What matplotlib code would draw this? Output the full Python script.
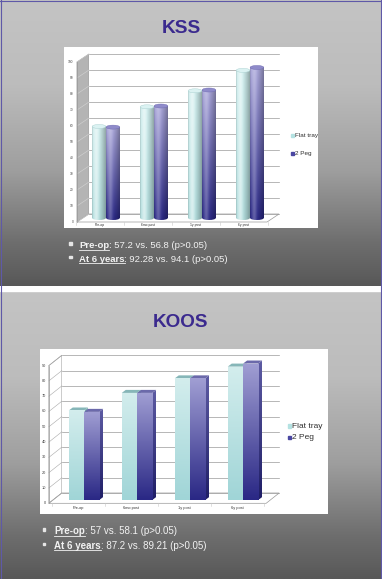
import numpy as np
import matplotlib.pyplot as plt
from matplotlib.patches import Rectangle, Polygon, Ellipse
from matplotlib.lines import Line2D
from matplotlib.colors import to_rgb

W, H = 382, 579

categories = ['Pre-op', '6mo post', '1y post', '6y post']
series_names = ['Flat tray', '2 Peg']

kss_flat = [57.2, 69.5, 79.5, 92.28]
kss_peg = [56.8, 70.0, 80.0, 94.1]
kss_ticks = list(range(0, 101, 10))

koos_flat = [58.5, 70.0, 79.5, 87.2]
koos_peg = [57.6, 70.0, 79.5, 89.2]
koos_ticks = list(range(0, 91, 10))

kss_notes = [('Pre-op', ': 57.2 vs. 56.8 (p>0.05)'),
             ('At 6 years', ': 92.28 vs. 94.1 (p>0.05)')]
koos_notes = [('Pre-op', ': 57 vs. 58.1 (p>0.05)'),
              ('At 6 years', ': 87.2 vs. 89.21 (p>0.05)')]

plt.rcParams['font.family'] = ['Liberation Sans', 'DejaVu Sans']

fig = plt.figure(figsize=(W / 100, H / 100), dpi=100)


def fx(x):
    return x / W


def fy(y):
    return 1 - y / H


def vgrad(stops, n=200, m=1):
    t = np.linspace(0, 1, n)
    pos = [s[0] for s in stops]
    cols = np.array([to_rgb(s[1]) for s in stops])
    img = np.stack([np.interp(t, pos, cols[:, k]) for k in range(3)], axis=1)
    return np.repeat(img[:, None, :], m, axis=1)


# slide backgrounds
bg = fig.add_axes([0, 0, 1, 1])
bg.axis('off')
slide_stops = [(0, '#c4c4c4'), (0.3, '#bcbcbc'), (0.6, '#9e9e9e'),
               (0.85, '#6e6e6e'), (1, '#585858')]
bg.imshow(vgrad(slide_stops), extent=(0, W, 286.5, 0), aspect='auto',
          interpolation='bilinear')
bg.imshow(vgrad(slide_stops), extent=(0, W, H, 290.5), aspect='auto',
          interpolation='bilinear')
bg.add_patch(Rectangle((0, 286.5), W, 4, color='white'))
border = '#5f59a8'
bg.plot([1, 1], [0, H], color=border, lw=0.8)
bg.plot([381, 381], [0, H], color=border, lw=0.8)
bg.plot([0, W], [1, 1], color=border, lw=0.8)
bg.set_xlim(0, W)
bg.set_ylim(H, 0)

# titles
title_col = '#3b2a8e'
fig.text(fx(181.5), fy(28.7), 'KSS', fontsize=13.8, fontweight='bold',
         color=title_col, ha='center', va='center')
fig.text(fx(181), fy(322), 'KOOS', fontsize=13.6, fontweight='bold',
         color=title_col, ha='center', va='center')


def cyl_img(top_c, bot_c, hl=0.45, n=64, m=40):
    base = vgrad([(0, top_c), (1, bot_c)], n=n, m=m)
    u = np.linspace(0, 1, m)
    w = hl * np.exp(-((u - 0.3) / 0.18) ** 2)
    dark = 1 - 0.3 * np.clip((u - 0.45) / 0.55, 0, 1) ** 1.3
    dark = dark * (1 - 0.15 * np.exp(-(u / 0.04) ** 2))
    img = base * (1 - w[None, :, None]) + w[None, :, None]
    return np.clip(img * dark[None, :, None], 0, 1)


def draw_chart(box, cx0, cpx, vy0, vpx, front, back, span, flat, peg, ticks,
               cyl, tick_fs, cat_fs, tick_dx, cat_dy, wall_col, grid_col):
    x0, x1, y0, y1 = box
    ax = fig.add_axes([fx(x0), fy(y1), (x1 - x0) / W, (y1 - y0) / H])
    ax.axis('off')
    ax.add_patch(Rectangle((0, 0), 1, 1, transform=ax.transAxes,
                           color='white', zorder=0))

    def P(c, v, off):
        return (c + off[0] / cpx, v - off[1] / vpx)

    a, b = span
    top = ticks[-1]
    line_col = '#9a9a9a'

    # left wall and back wall
    ax.add_patch(Polygon([P(a, 0, front), P(a, 0, back), P(a, top, back),
                          P(a, top, front)], closed=True, facecolor=wall_col,
                         edgecolor=line_col, lw=0.5, zorder=1))
    ax.add_patch(Polygon([P(a, 0, back), P(b, 0, back), P(b, top, back),
                          P(a, top, back)], closed=True, facecolor='white',
                         edgecolor='none', zorder=1))
    for t in ticks:
        p1, p2 = P(a, t, back), P(b, t, back)
        ax.plot([p1[0], p2[0]], [p1[1], p2[1]], color=line_col, lw=0.5, zorder=1.2)
        p3 = P(a, t, front)
        ax.plot([p3[0], p1[0]], [p3[1], p1[1]], color=grid_col, lw=0.4, zorder=1.2)
        lp = P(a, t, (front[0] + tick_dx, front[1]))
        ax.text(lp[0], lp[1], str(t), fontsize=tick_fs, color='#404040',
                ha='right', va='center', zorder=2)
    # floor
    ax.add_patch(Polygon([P(a, 0, front), P(b, 0, front), P(b, 0, back),
                          P(a, 0, back)], closed=True, facecolor='white',
                         edgecolor=line_col, lw=0.5, zorder=1.1))
    fl, ft = P(a, 0, front), P(a, top, front)
    ax.plot([fl[0], ft[0]], [fl[1], ft[1]], color=line_col, lw=0.5, zorder=1.3)

    xs = np.arange(len(categories))
    for i, cat in enumerate(categories):
        lp = P(i, 0, (front[0], front[1] + cat_dy))
        ax.text(lp[0], lp[1], cat, fontsize=cat_fs, color='#303030',
                ha='center', va='center', zorder=2)
    for k in range(len(categories) + 1):
        s1 = P(k - 0.5, 0, front)
        s2 = P(k - 0.5, 0, (front[0], front[1] + 2.5))
        ax.plot([s1[0], s2[0]], [s1[1], s2[1]], color='#c8c8c8', lw=0.4, zorder=1.3)

    w = 0.285
    offs = [-0.145, 0.145]
    z = 3.0
    if cyl:
        eh = 4.0 / vpx
        styles = [('#d0eeee', '#b2dede', '#dbf2f2', '#a7cfcf', 0.5),
                  ('#aaa7da', '#2a2886', '#8f8bca', '#6d69b0', 0.25)]
        for i in range(len(categories)):
            for vals, off, st in zip([flat, peg], offs, styles):
                rect = ax.bar(xs[i] + off, vals[i], width=w, bottom=0,
                              color='none', zorder=z)[0]
                l, v = rect.get_x(), rect.get_height()
                cx = l + w / 2
                img = cyl_img(st[0], st[1], hl=st[4])
                bottom = Ellipse((cx, 0), w, eh, facecolor='none',
                                 edgecolor='none', zorder=z)
                ax.add_patch(bottom)
                for clip in (rect, bottom):
                    im = ax.imshow(img, extent=(l, l + w, -eh / 2, v), aspect='auto',
                                   interpolation='bilinear', zorder=z + 0.01)
                    im.set_clip_path(clip)
                ax.add_patch(Ellipse((cx, v), w, eh, facecolor=st[2],
                                     edgecolor=st[3], lw=0.3, zorder=z + 0.02))
                z += 0.1
    else:
        ddx, ddy = 4.0 / cpx, 3.0 / vpx
        styles = [('#d3eded', '#a0d5d7', '#86b6b8', '#7fb0b2', '#5f9698'),
                  ('#a09ed3', '#2a2885', '#6b69aa', '#5d5ba3', '#1f1e66')]
        for i in range(len(categories)):
            for vals, off, st in zip([flat, peg], offs, styles):
                rect = ax.bar(xs[i] + off, vals[i], width=w, bottom=0,
                              color='none', zorder=z)[0]
                l, v = rect.get_x(), rect.get_height()
                r = l + w
                side = Polygon([(r, 0), (r + ddx, ddy), (r + ddx, v + ddy), (r, v)],
                               closed=True, facecolor='none', edgecolor='none', zorder=z)
                ax.add_patch(side)
                im = ax.imshow(vgrad([(0, st[3]), (1, st[4])], n=64),
                               extent=(r, r + ddx, 0, v + ddy), aspect='auto',
                               interpolation='bilinear', zorder=z)
                im.set_clip_path(side)
                ax.add_patch(Polygon([(l, v), (r, v), (r + ddx, v + ddy),
                                      (l + ddx, v + ddy)], closed=True,
                                     facecolor=st[2], edgecolor='none', zorder=z + 0.01))
                im = ax.imshow(vgrad([(0, st[0]), (1, st[1])], n=64),
                               extent=(l, r, 0, v), aspect='auto',
                               interpolation='bilinear', zorder=z + 0.02)
                im.set_clip_path(rect)
                z += 0.1

    ax.set_xlim((x0 - cx0) / cpx, (x1 - cx0) / cpx)
    ax.set_ylim((vy0 - y1) / vpx, (vy0 - y0) / vpx)
    return ax


draw_chart((64, 318, 47, 228), 106, 48, 218, 1.6, (-6, 4), (6, -4), (-0.48, 3.48),
           kss_flat, kss_peg, kss_ticks, True, 2.3, 2.4, -3.5, 2.5, '#b4b4b4', '#d2d2d2')
draw_chart((40, 328, 349, 514), 84, 53, 500, 1.53, (-6, 3.3), (7, -7), (-0.55, 3.55),
           koos_flat, koos_peg, koos_ticks, False, 2.8, 2.8, -3, 5, 'white', '#a8a8a8')

# legends
legend_cols = ['#b4e2e2', '#4a47a2']


def legend(x, y0, dy, sq, fs):
    for k, (name, col) in enumerate(zip(series_names, legend_cols)):
        y = y0 + k * dy
        fig.add_artist(Rectangle((fx(x), fy(y + sq / 2)), sq / W, sq / H,
                                 transform=fig.transFigure, color=col))
        fig.text(fx(x + sq + 1), fy(y), name, fontsize=fs, color='#303030',
                 va='center', ha='left')


legend(291, 135.7, 17.6, 2.6, 4.6)
legend(287.5, 426, 11.3, 3.6, 6.0)

# bullet notes
renderer = fig.canvas.get_renderer()
note_col = '#f2f2f2'


def notes(lines, bx, tx, ys, fs):
    for (bold, rest), y in zip(lines, ys):
        fig.add_artist(Rectangle((fx(bx), fy(y - 3.5)), 2.6 / W, 2.6 / H,
                                 transform=fig.transFigure, color='#e6e6e6'))
        t1 = fig.text(fx(tx), fy(y), bold, fontsize=fs, fontweight='bold',
                      color=note_col, va='baseline', ha='left')
        bb = t1.get_window_extent(renderer)
        fig.text(bb.x1 / W, fy(y), rest, fontsize=fs, color=note_col,
                 va='baseline', ha='left')
        fig.add_artist(Line2D([bb.x0 / W, bb.x1 / W], [fy(y + 1.6)] * 2,
                              transform=fig.transFigure, color=note_col, lw=0.6))


notes(kss_notes, 69.3, 79, [248.3, 261.6], 6.8)
notes(koos_notes, 42.5, 54, [534.3, 548.6], 7.0)

fig.savefig('out.png', dpi=100)
